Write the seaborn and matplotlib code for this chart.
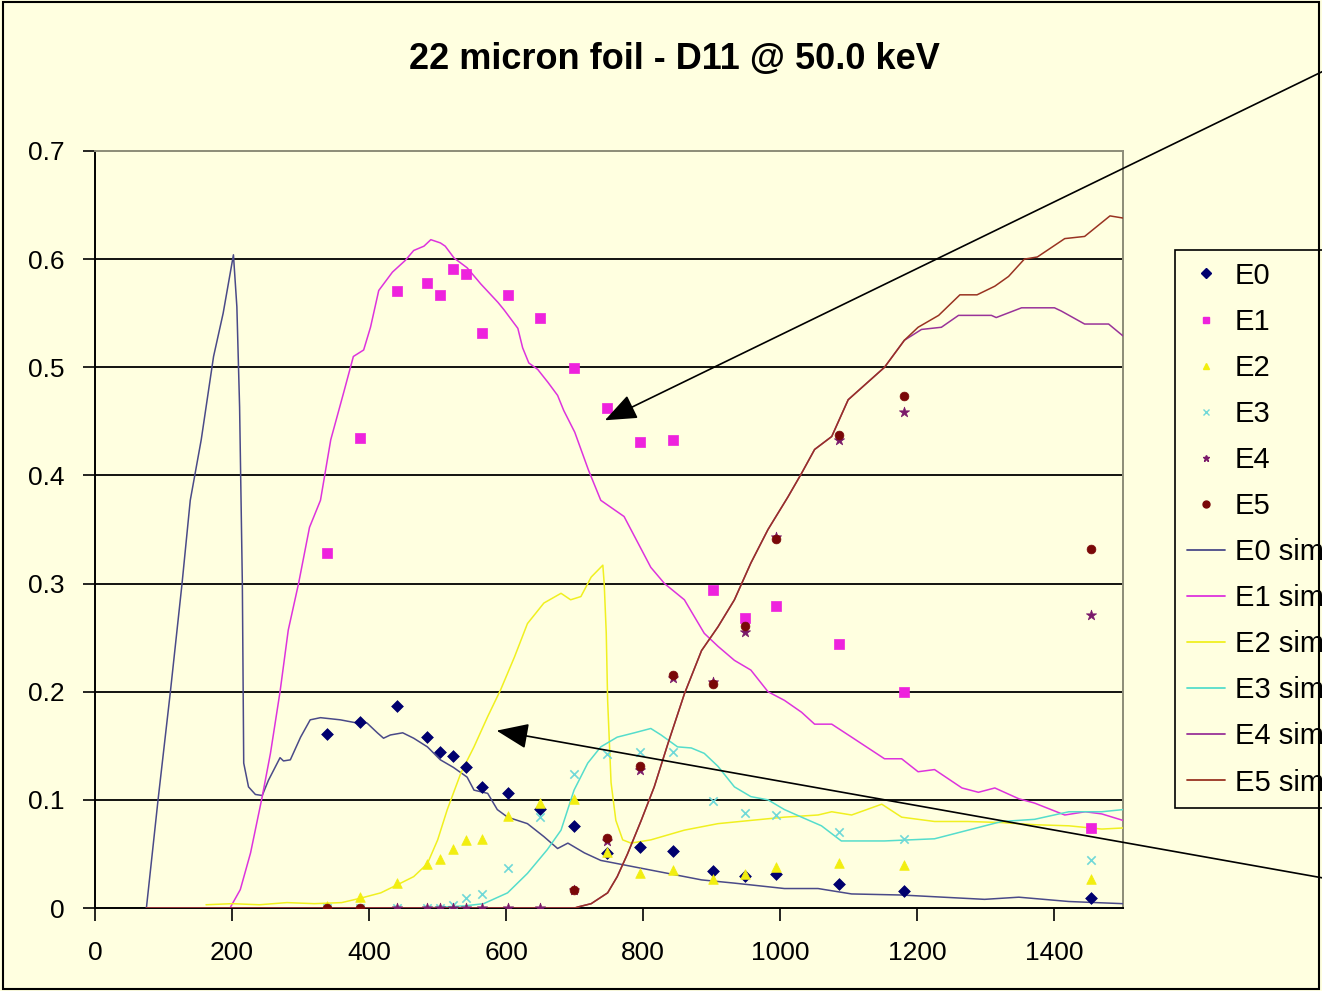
import numpy as np
import pandas as pd
import matplotlib
matplotlib.use("Agg")
import matplotlib.pyplot as plt
from matplotlib.lines import Line2D
import seaborn as sns

# ---------------- data ----------------
x_meas = [338, 386, 440, 485, 504, 523, 542, 564, 602, 650, 699, 747, 795, 844, 902, 949, 994, 1086, 1180, 1453]
e0 = [0.161, 0.172, 0.187, 0.158, 0.144, 0.141, 0.130, 0.112, 0.106, 0.092, 0.076, 0.051, 0.056, 0.053, 0.034, 0.030, 0.031, 0.022, 0.016, 0.009]
e1 = [0.328, 0.435, 0.571, 0.578, 0.567, 0.591, 0.586, 0.532, 0.567, 0.546, 0.499, 0.462, 0.431, 0.433, 0.294, 0.268, 0.279, 0.244, 0.200, 0.074]
e2 = [0.002, 0.010, 0.023, 0.041, 0.045, 0.055, 0.063, 0.064, 0.085, 0.097, 0.101, 0.052, 0.032, 0.035, 0.027, 0.031, 0.038, 0.042, 0.040, 0.027]
e3 = [0.0, 0.0, 0.0, 0.0, 0.0, 0.003, 0.009, 0.013, 0.037, 0.084, 0.124, 0.142, 0.144, 0.144, 0.099, 0.088, 0.086, 0.070, 0.064, 0.044]
e4 = [np.nan, np.nan, 0.0, 0.0, 0.0, 0.0, 0.0, 0.0, 0.0, 0.0, 0.017, 0.062, 0.128, 0.213, 0.209, 0.255, 0.343, 0.433, 0.459, 0.271]
e5 = [0.0, 0.0, np.nan, np.nan, np.nan, np.nan, np.nan, np.nan, np.nan, np.nan, 0.017, 0.065, 0.131, 0.215, 0.207, 0.261, 0.341, 0.437, 0.473, 0.332]

e0_sim_x = [75, 92, 110, 127, 139, 155, 173, 187, 202, 207, 211, 215, 217, 224, 234, 244, 253, 270, 275, 285, 300, 314, 329, 358, 383, 397, 412, 421, 431, 449, 465, 485, 504, 523, 543, 553, 573, 587, 602, 631, 655, 675, 690, 714, 738, 787, 836, 885, 933, 1006, 1055, 1104, 1177, 1298, 1348, 1421, 1500]
e0_sim_y = [0.0, 0.1, 0.2, 0.3, 0.377, 0.433, 0.51, 0.55, 0.604, 0.556, 0.463, 0.30, 0.134, 0.112, 0.105, 0.104, 0.118, 0.139, 0.136, 0.137, 0.158, 0.174, 0.176, 0.174, 0.171, 0.171, 0.162, 0.157, 0.160, 0.162, 0.157, 0.149, 0.137, 0.130, 0.121, 0.109, 0.106, 0.091, 0.084, 0.078, 0.066, 0.055, 0.060, 0.051, 0.044, 0.038, 0.032, 0.026, 0.023, 0.018, 0.018, 0.013, 0.012, 0.008, 0.010, 0.006, 0.004]

e1_sim_x = [197, 212, 227, 244, 256, 270, 282, 297, 313, 329, 344, 363, 377, 392, 402, 414, 434, 453, 465, 480, 490, 504, 511, 524, 543, 563, 588, 597, 617, 624, 633, 646, 661, 675, 684, 700, 720, 738, 772, 811, 831, 860, 889, 909, 933, 957, 982, 1006, 1031, 1050, 1075, 1104, 1152, 1177, 1201, 1225, 1265, 1289, 1313, 1348, 1371, 1415, 1445, 1469, 1500]
e1_sim_y = [0.0, 0.017, 0.051, 0.103, 0.143, 0.2, 0.257, 0.30, 0.352, 0.377, 0.433, 0.477, 0.51, 0.516, 0.537, 0.571, 0.588, 0.599, 0.608, 0.612, 0.618, 0.615, 0.612, 0.601, 0.592, 0.577, 0.56, 0.553, 0.536, 0.518, 0.504, 0.498, 0.486, 0.474, 0.46, 0.44, 0.405, 0.377, 0.362, 0.315, 0.30, 0.285, 0.254, 0.242, 0.229, 0.22, 0.20, 0.192, 0.181, 0.170, 0.170, 0.158, 0.138, 0.138, 0.126, 0.128, 0.111, 0.107, 0.111, 0.101, 0.097, 0.086, 0.089, 0.087, 0.081]

e2_sim_x = [162, 200, 240, 280, 320, 360, 387, 417, 446, 465, 485, 500, 514, 534, 553, 573, 592, 612, 631, 655, 680, 694, 709, 724, 741, 743, 746, 748, 753, 760, 770, 782, 811, 860, 909, 957, 1006, 1055, 1075, 1104, 1148, 1177, 1225, 1274, 1323, 1371, 1421, 1469, 1500]
e2_sim_y = [0.003, 0.004, 0.003, 0.005, 0.004, 0.005, 0.009, 0.014, 0.023, 0.029, 0.041, 0.063, 0.091, 0.125, 0.149, 0.177, 0.202, 0.232, 0.263, 0.282, 0.291, 0.285, 0.288, 0.306, 0.317, 0.30, 0.254, 0.192, 0.116, 0.081, 0.063, 0.06, 0.063, 0.072, 0.078, 0.081, 0.084, 0.086, 0.089, 0.086, 0.096, 0.084, 0.080, 0.080, 0.079, 0.077, 0.076, 0.073, 0.074]

e3_sim_x = [480, 540, 567, 602, 631, 660, 680, 699, 719, 738, 762, 787, 811, 826, 850, 870, 889, 909, 933, 957, 982, 1006, 1031, 1060, 1089, 1152, 1225, 1274, 1323, 1371, 1421, 1469, 1500]
e3_sim_y = [0.0, 0.002, 0.004, 0.014, 0.032, 0.054, 0.072, 0.109, 0.134, 0.149, 0.158, 0.162, 0.166, 0.160, 0.149, 0.148, 0.143, 0.131, 0.112, 0.103, 0.100, 0.091, 0.084, 0.076, 0.062, 0.062, 0.064, 0.072, 0.080, 0.082, 0.089, 0.089, 0.091]

e4_sim_x = [75, 700, 705, 724, 748, 762, 777, 797, 816, 836, 860, 885, 909, 933, 957, 982, 1011, 1031, 1050, 1075, 1099, 1152, 1181, 1206, 1235, 1260, 1308, 1315, 1352, 1400, 1410, 1444, 1479, 1500]
e4_sim_y = [0.0, 0.0, 0.001, 0.004, 0.014, 0.029, 0.050, 0.081, 0.112, 0.152, 0.198, 0.238, 0.26, 0.285, 0.319, 0.35, 0.38, 0.402, 0.424, 0.436, 0.47, 0.50, 0.525, 0.535, 0.537, 0.548, 0.548, 0.546, 0.555, 0.555, 0.552, 0.540, 0.540, 0.529]

e5_sim_x = [75, 700, 705, 724, 748, 762, 777, 797, 816, 836, 860, 885, 909, 933, 957, 982, 1011, 1031, 1050, 1075, 1099, 1152, 1181, 1201, 1231, 1262, 1287, 1313, 1333, 1356, 1375, 1415, 1444, 1481, 1500]
e5_sim_y = [0.0, 0.0, 0.001, 0.004, 0.014, 0.029, 0.050, 0.081, 0.112, 0.152, 0.198, 0.238, 0.26, 0.285, 0.319, 0.35, 0.38, 0.402, 0.424, 0.436, 0.47, 0.50, 0.525, 0.537, 0.548, 0.567, 0.567, 0.575, 0.584, 0.60, 0.602, 0.619, 0.621, 0.64, 0.638]

x_ticks = [0, 200, 400, 600, 800, 1000, 1200, 1400]
y_ticks = [0, 0.1, 0.2, 0.3, 0.4, 0.5, 0.6, 0.7]
y_tick_labels = ["0", "0.1", "0.2", "0.3", "0.4", "0.5", "0.6", "0.7"]
title = "22 micron foil - D11 @ 50.0 keV"

# ---------------- style ----------------
BG = "#FFFFE0"
sns.set_style("white")
plt.rcParams["font.family"] = ["Liberation Sans", "DejaVu Sans"]
plt.rcParams["text.color"] = "black"
plt.rcParams["xtick.color"] = "black"
plt.rcParams["ytick.color"] = "black"
plt.rcParams["xtick.labelcolor"] = "black"
plt.rcParams["ytick.labelcolor"] = "black"

fig = plt.figure(figsize=(13.22, 9.91), dpi=100, facecolor=BG)
ax = fig.add_axes([95 / 1322, 1 - 908 / 991, 1028 / 1322, 757 / 991])
ax.set_facecolor(BG)

meas_df = pd.DataFrame({"x": x_meas, "E0": e0, "E1": e1, "E2": e2, "E3": e3, "E4": e4, "E5": e5})

meas_style = [
    ("E0", "D", "#00006E", 36, 0.0),
    ("E1", "s", "#EE22DD", 48, 0.0),
    ("E2", "^", "#F2EE10", 48, 0.0),
    ("E3", "x", "#70D8D8", 36, 1.2),
    ("E4", "*", "#7A1A6A", 60, 0.0),
    ("E5", "o", "#7A0808", 40, 0.0),
]
sim_style = [
    ("E0 sim", e0_sim_x, e0_sim_y, "#4A4A88"),
    ("E1 sim", e1_sim_x, e1_sim_y, "#DD33DD"),
    ("E2 sim", e2_sim_x, e2_sim_y, "#F0F020"),
    ("E3 sim", e3_sim_x, e3_sim_y, "#55DDCC"),
    ("E4 sim", e4_sim_x, e4_sim_y, "#993399"),
    ("E5 sim", e5_sim_x, e5_sim_y, "#993322"),
]

for lab, sx, sy, col in sim_style:
    d = pd.DataFrame({"x": sx, "y": sy})
    sns.lineplot(data=d, x="x", y="y", color=col, linewidth=1.1, sort=False,
                 estimator=None, ax=ax, zorder=3)

for lab, mk, col, sz, lw in meas_style:
    d = meas_df[["x", lab]].dropna()
    if mk == "x":
        sns.scatterplot(data=d, x="x", y=lab, marker=mk, color=col, s=sz,
                        linewidth=lw, ax=ax, zorder=4)
    else:
        sns.scatterplot(data=d, x="x", y=lab, marker=mk, color=col, s=sz,
                        edgecolor=col, linewidth=0.5, ax=ax, zorder=4)

ax.set_xlim(0, 1500)
ax.set_ylim(0, 0.7)
ax.set_xticks(x_ticks)
ax.set_xticklabels([str(t) for t in x_ticks])
ax.set_yticks(y_ticks)
ax.set_yticklabels(y_tick_labels)
ax.set_xlabel("")
ax.set_ylabel("")
ax.tick_params(axis="both", direction="out", length=9, width=1.2, color="black",
               labelcolor="black", labelsize=19, bottom=True, left=True)
ax.tick_params(axis="x", pad=15)
ax.tick_params(axis="y", pad=13)
for yv in y_ticks[1:-1]:
    ax.axhline(yv, color="black", linewidth=1.3, zorder=1)

for side in ["left", "bottom"]:
    ax.spines[side].set_color("black")
    ax.spines[side].set_linewidth(1.4)
for side in ["top", "right"]:
    ax.spines[side].set_color("#8C8C78")
    ax.spines[side].set_linewidth(1.4)
    ax.spines[side].set_visible(True)

fig.text(674.5 / 1322, 1 - 60 / 991, title, ha="center", va="center",
         fontsize=26, fontweight="bold", color="black")

# legend (manual handles)
handles, labels = [], []
for lab, mk, col, sz, lw in meas_style:
    handles.append(Line2D([], [], linestyle="none", marker=mk, color=col,
                          markeredgecolor=col, markersize=5, markeredgewidth=1.0))
    labels.append(lab)
for lab, sx, sy, col in sim_style:
    handles.append(Line2D([], [], color=col, linewidth=1.3))
    labels.append(lab)
leg = ax.legend(handles, labels, loc="upper left",
                bbox_to_anchor=(1175 / 1322, 1 - 250 / 991), bbox_transform=fig.transFigure,
                borderaxespad=0, fontsize=21, frameon=True, fancybox=False,
                edgecolor="black", facecolor=BG, framealpha=1, labelspacing=0.62,
                handlelength=1.3, handletextpad=0.35, borderpad=0.4)
leg.get_frame().set_linewidth(1.2)
for t in leg.get_texts():
    t.set_color("black")

# arrows
ax.annotate("", xy=(744, 0.451), xycoords="data",
            xytext=(1340, 991 - 63), textcoords="figure pixels",
            arrowprops=dict(arrowstyle="-|>,head_length=0.55,head_width=0.22",
                            mutation_scale=36, color="black", lw=1.2,
                            shrinkA=0, shrinkB=0),
            annotation_clip=False, zorder=6)
ax.annotate("", xy=(586, 0.164), xycoords="data",
            xytext=(1340, 991 - 881), textcoords="figure pixels",
            arrowprops=dict(arrowstyle="-|>,head_length=0.55,head_width=0.22",
                            mutation_scale=36, color="black", lw=1.2,
                            shrinkA=0, shrinkB=0),
            annotation_clip=False, zorder=6)

# figure border
fig.patches.append(plt.Rectangle((0.002, 0.002), 0.996, 0.996, transform=fig.transFigure,
                                 fill=False, edgecolor="black", linewidth=1.5))

fig.savefig("out.png", dpi=100, facecolor=BG)
